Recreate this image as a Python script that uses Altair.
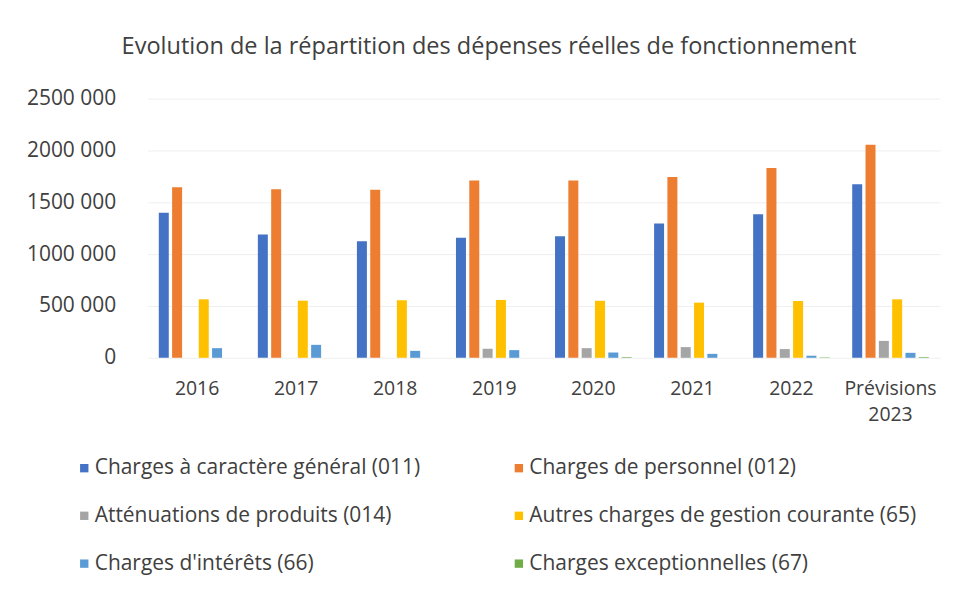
import altair as alt
import pandas as pd

years = ["2016", "2017", "2018", "2019", "2020", "2021", "2022", "Prévisions 2023"]
series = [
    "Charges à caractère général (011)",
    "Charges de personnel (012)",
    "Atténuations de produits (014)",
    "Autres charges de gestion courante (65)",
    "Charges d'intérêts (66)",
    "Charges exceptionnelles (67)",
]
colors = ["#4472C4", "#ED7D31", "#A5A5A5", "#FFC000", "#5B9BD5", "#70AD47"]

general = [1400000, 1190000, 1125000, 1157000, 1173000, 1295000, 1385000, 1673000]
personnel = [1645000, 1625000, 1620000, 1710000, 1710000, 1743000, 1830000, 2055000]
attenuations = [0, 0, 0, 87000, 93000, 103000, 84000, 163000]
autres = [564000, 551000, 555000, 558000, 550000, 532000, 548000, 564000]
interets = [93000, 125000, 67000, 74000, 51000, 38000, 20000, 48000]
exceptionnelles = [0, 0, 0, 0, 6000, 0, 4000, 6000]

values = [general, personnel, attenuations, autres, interets, exceptionnelles]
rows = []
for s, vals in zip(series, values):
    for y, v in zip(years, vals):
        rows.append({"annee": y, "serie": s, "montant": v})
df = pd.DataFrame(rows)

FONT = "Open Sans"
TXT = "#404040"

chart = alt.Chart(df).mark_bar().encode(
    x=alt.X("annee:N", sort=years,
            scale=alt.Scale(paddingInner=0.2, paddingOuter=0.1),
            axis=alt.Axis(title=None, labelAngle=0, domain=False, ticks=False,
                          labelPadding=22, labelFontSize=19.5, labelColor=TXT,
                          labelFont=FONT, labelExpr="split(datum.label, ' ')",
                          labelLineHeight=26)),
    xOffset=alt.XOffset("serie:N", sort=series,
                        scale=alt.Scale(paddingInner=0.25, paddingOuter=0.1)),
    y=alt.Y("montant:Q",
            scale=alt.Scale(domain=[0, 2500000], nice=False),
            axis=alt.Axis(title=None, values=[0, 500000, 1000000, 1500000, 2000000, 2500000],
                          domain=False, ticks=False, labelPadding=32,
                          labelFontSize=21, labelColor=TXT, labelFont=FONT,
                          gridColor="#efefef",
                          labelExpr="datum.value == 0 ? '0' : format(datum.value/1000, 'd') + ' 000'")),
    color=alt.Color("serie:N", sort=series,
                    scale=alt.Scale(domain=series, range=colors),
                    legend=alt.Legend(title=None, orient="none", legendX=-74, legendY=360,
                                      direction="horizontal",
                                      columns=2, columnPadding=88, rowPadding=26,
                                      symbolType="square", symbolSize=70,
                                      symbolOffset=0, labelOffset=0,
                                      labelFontSize=21, labelColor=TXT, labelFont=FONT,
                                      labelLimit=500)),
).properties(
    width=795,
    height=260,
    title=alt.Title("Evolution de la répartition des dépenses réelles de fonctionnement",
                    fontSize=23.6, font=FONT, color=TXT, fontWeight="normal",
                    anchor="middle", dx=-55, offset=29),
    autosize=alt.AutoSizeParams(type="none"),
    padding={"left": 140, "top": 90, "right": 10, "bottom": 220},
).configure_view(stroke=None)

chart.save("out.html", embed_options={"renderer": "svg", "actions": False})
